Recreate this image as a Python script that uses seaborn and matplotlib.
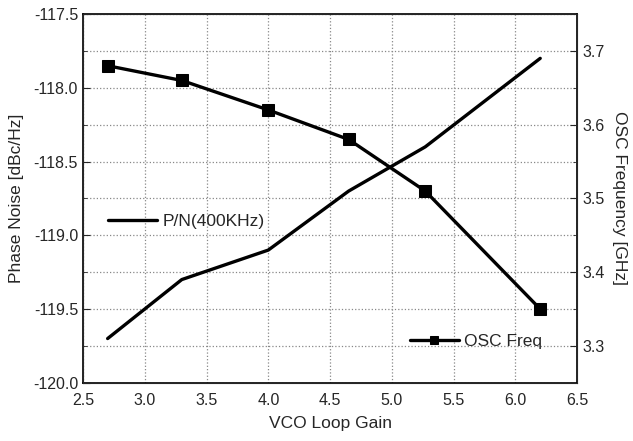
import pandas as pd
import matplotlib
matplotlib.use("Agg")
import matplotlib.pyplot as plt
from matplotlib.ticker import MultipleLocator
import seaborn as sns

# data
gain_pn = [2.7, 3.3, 4.0, 4.65, 5.27, 6.2]
phase_noise = [-119.7, -119.3, -119.1, -118.7, -118.4, -117.8]
gain_osc = [2.7, 3.3, 4.0, 4.65, 5.27, 6.2]
osc_freq = [3.68, 3.66, 3.62, 3.58, 3.51, 3.35]

sns.set_style("white")
plt.rcParams['font.family'] = ['Liberation Sans', 'DejaVu Sans']

df_pn = pd.DataFrame({'gain': gain_pn, 'pn': phase_noise})
df_osc = pd.DataFrame({'gain': gain_osc, 'freq': osc_freq})

fig, ax = plt.subplots(figsize=(6.33, 4.41), dpi=100)
fig.subplots_adjust(left=0.131, right=0.912, top=0.968, bottom=0.132)

sns.lineplot(data=df_pn, x='gain', y='pn', ax=ax, color='black', lw=2.4,
             label='P/N(400KHz)')
ax.set_xlim(2.5, 6.5)
ax.set_ylim(-120.0, -117.5)
ax.xaxis.set_major_locator(MultipleLocator(0.5))
ax.xaxis.set_minor_locator(MultipleLocator(0.25))
ax.yaxis.set_major_locator(MultipleLocator(0.5))
ax.yaxis.set_minor_locator(MultipleLocator(0.25))
ax.yaxis.set_major_formatter(matplotlib.ticker.FormatStrFormatter('%.1f'))
ax.xaxis.set_major_formatter(matplotlib.ticker.FormatStrFormatter('%.1f'))
ax.grid(True, which='both', axis='y', color='#888888', ls=':', lw=0.9)
ax.grid(True, which='major', axis='x', color='#888888', ls=':', lw=0.9)
ax.tick_params(which='both', direction='in', labelsize=11.5)
ax.tick_params(which='major', length=5)
ax.tick_params(which='minor', length=3)
ax.tick_params(axis='x', pad=7)
ax.set_xlabel('VCO Loop Gain', fontsize=12.5, labelpad=6)
ax.set_ylabel('Phase Noise [dBc/Hz]', fontsize=12.5, labelpad=6)
for s in ax.spines.values():
    s.set_color('black')
    s.set_linewidth(1.2)
ax.legend(loc='upper left', bbox_to_anchor=(0.02, 0.5), frameon=False,
          fontsize=12.5, handlelength=2.8, handletextpad=0.3)

ax2 = ax.twinx()
sns.lineplot(data=df_osc, x='gain', y='freq', ax=ax2, color='black', lw=2.4,
             marker='s', markersize=9, markeredgecolor='black',
             label='OSC Freq')
ax2.set_ylim(3.25, 3.75)
ax2.yaxis.set_major_locator(MultipleLocator(0.1))
ax2.yaxis.set_minor_locator(MultipleLocator(0.05))
ax2.tick_params(which='both', direction='in', labelsize=11.5)
ax2.tick_params(which='major', length=5)
ax2.tick_params(which='minor', length=3)
ax2.set_xlabel('')
ax2.set_ylabel('OSC Frequency [GHz]', fontsize=12.5, rotation=-90, labelpad=16)
ax2.legend(loc='lower left', bbox_to_anchor=(0.63, 0.05), frameon=False,
           fontsize=12.5, handlelength=2.8, handletextpad=0.3, markerscale=0.7)

fig.savefig('out.png', dpi=100)
